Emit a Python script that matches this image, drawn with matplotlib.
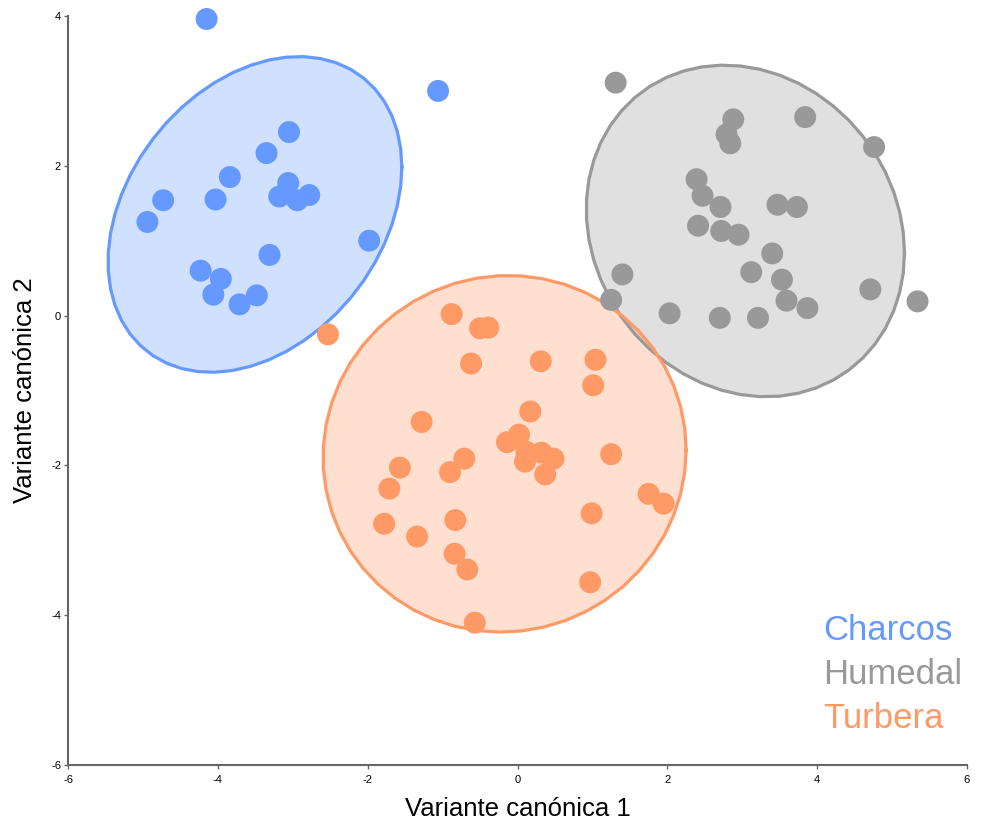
import numpy as np
import matplotlib
matplotlib.use("Agg")
import matplotlib.pyplot as plt

plt.rcParams['font.family'] = ['Liberation Sans', 'DejaVu Sans']

groups = ["Charcos", "Humedal", "Turbera"]
colors = {"Charcos": "#6699FF", "Humedal": "#999999", "Turbera": "#FF9966"}

charcos_x = [-4.15, -1.06, -3.05, -3.35, -3.84, -4.03, -4.73, -4.94, -3.06, -3.18,
             -2.94, -2.78, -1.98, -3.31, -4.23, -3.96, -4.06, -3.71, -3.48]
charcos_y = [3.96, 3.00, 2.45, 2.17, 1.85, 1.55, 1.54, 1.25, 1.77, 1.59,
             1.54, 1.61, 1.00, 0.81, 0.60, 0.49, 0.28, 0.15, 0.27]

humedal_x = [1.31, 2.88, 2.79, 2.84, 3.84, 4.76, 2.39, 2.47, 2.71, 3.47, 3.73, 2.41, 2.72,
             2.95, 3.40, 3.12, 3.53, 3.59, 3.87, 4.71, 5.34, 1.40, 1.25, 2.03, 2.70, 3.21]
humedal_y = [3.11, 2.62, 2.42, 2.30, 2.65, 2.25, 1.82, 1.60, 1.45, 1.48, 1.45, 1.20, 1.13,
             1.08, 0.83, 0.58, 0.48, 0.20, 0.10, 0.35, 0.19, 0.55, 0.21, 0.03, -0.03, -0.03]

turbera_x = [-2.53, -0.88, -0.50, -0.39, -0.62, 0.31, 1.04, 1.01, 0.17, -1.28, 0.02,
             -0.14, 0.12, 0.32, 0.48, 0.10, 0.37, 1.25, -0.71, -0.90, -1.57, -1.71,
             -1.78, -1.34, -0.83, -0.84, -0.67, 0.99, 1.75, 1.95, 0.97, -0.57]
turbera_y = [-0.25, 0.02, -0.17, -0.16, -0.64, -0.61, -0.59, -0.93, -1.28, -1.42, -1.59,
             -1.69, -1.82, -1.83, -1.91, -1.95, -2.12, -1.85, -1.91, -2.09, -2.03, -2.31,
             -2.78, -2.95, -2.73, -3.18, -3.39, -2.64, -2.38, -2.51, -3.56, -4.10]

data = {
    "Charcos": (charcos_x, charcos_y),
    "Humedal": (humedal_x, humedal_y),
    "Turbera": (turbera_x, turbera_y),
}

x_ticks = [-6, -4, -2, 0, 2, 4, 6]
y_ticks = [-6, -4, -2, 0, 2, 4]
level = 0.95


def cov_trob(pts, nu=5, maxit=25, tol=0.01):
    """Multivariate t location/scatter estimate (as in MASS::cov.trob)."""
    n, p = pts.shape
    loc = pts.mean(axis=0)
    w = np.ones(n)
    X = pts - loc
    for _ in range(maxit):
        w0 = w
        X = pts - loc
        S = (w[:, None] * X).T @ X / w.sum()
        Q = np.einsum("ij,jk,ik->i", X, np.linalg.inv(S), X)
        w = (nu + p) / (nu + Q)
        loc = (w[:, None] * pts).sum(axis=0) / w.sum()
        if np.all(np.abs(w - w0) < tol):
            break
    cov = (w[:, None] * X).T @ X / n
    return loc, cov


def t_ellipse(x, y, level=0.95, segments=51):
    """Confidence ellipse for a multivariate t fit."""
    pts = np.column_stack([x, y]).astype(float)
    n = len(pts)
    center, shape = cov_trob(pts)
    d = n - 1
    # quantile of F(2, d) in closed form
    fq = d / 2.0 * ((1 - level) ** (-2.0 / d) - 1)
    radius = np.sqrt(2 * fq)
    t = np.arange(segments + 1) * 2 * np.pi / segments
    circle = np.column_stack([np.cos(t), np.sin(t)])
    upper = np.linalg.cholesky(shape).T
    return center + radius * circle @ upper


fig = plt.figure(figsize=(9.88, 8.25), dpi=100)
ax = fig.add_axes([68 / 988, 60 / 825, 899 / 988, 749 / 825])

for g in groups:
    x, y = data[g]
    ell = t_ellipse(x, y, level)
    ax.fill(ell[:, 0], ell[:, 1], facecolor=colors[g], alpha=0.3, edgecolor="none", zorder=1)
    ax.plot(ell[:, 0], ell[:, 1], color=colors[g], lw=2.3, zorder=2)

for g in groups:
    x, y = data[g]
    ax.scatter(x, y, s=250, color=colors[g], edgecolor="none", zorder=3, clip_on=False)

ax.set_xlim(-6, 6)
ax.set_ylim(-6, 4)
ax.set_xticks(x_ticks)
ax.set_yticks(y_ticks)
ax.set_xticklabels([str(v) for v in x_ticks])
ax.set_yticklabels([str(v) for v in y_ticks])
ax.tick_params(labelsize=8, length=3, width=1, color="#666666")
ax.tick_params(axis="x", pad=4)
ax.tick_params(axis="y", pad=2)
for side in ["top", "right"]:
    ax.spines[side].set_visible(False)
for side in ["left", "bottom"]:
    ax.spines[side].set_color("#666666")
    ax.spines[side].set_linewidth(1.5)

ax.set_xlabel("Variante canónica 1", fontsize=18.5)
ax.set_ylabel("Variante canónica 2", fontsize=18.5)
ax.xaxis.set_label_coords(0.5, -0.043)
ax.yaxis.set_label_coords(-0.035, 0.5)

for i, g in enumerate(groups):
    ax.text(0.84, 0.167 - i * 0.0585, g, transform=ax.transAxes, color=colors[g],
            fontsize=25, ha="left", va="baseline")

fig.savefig("out.png", dpi=100)
